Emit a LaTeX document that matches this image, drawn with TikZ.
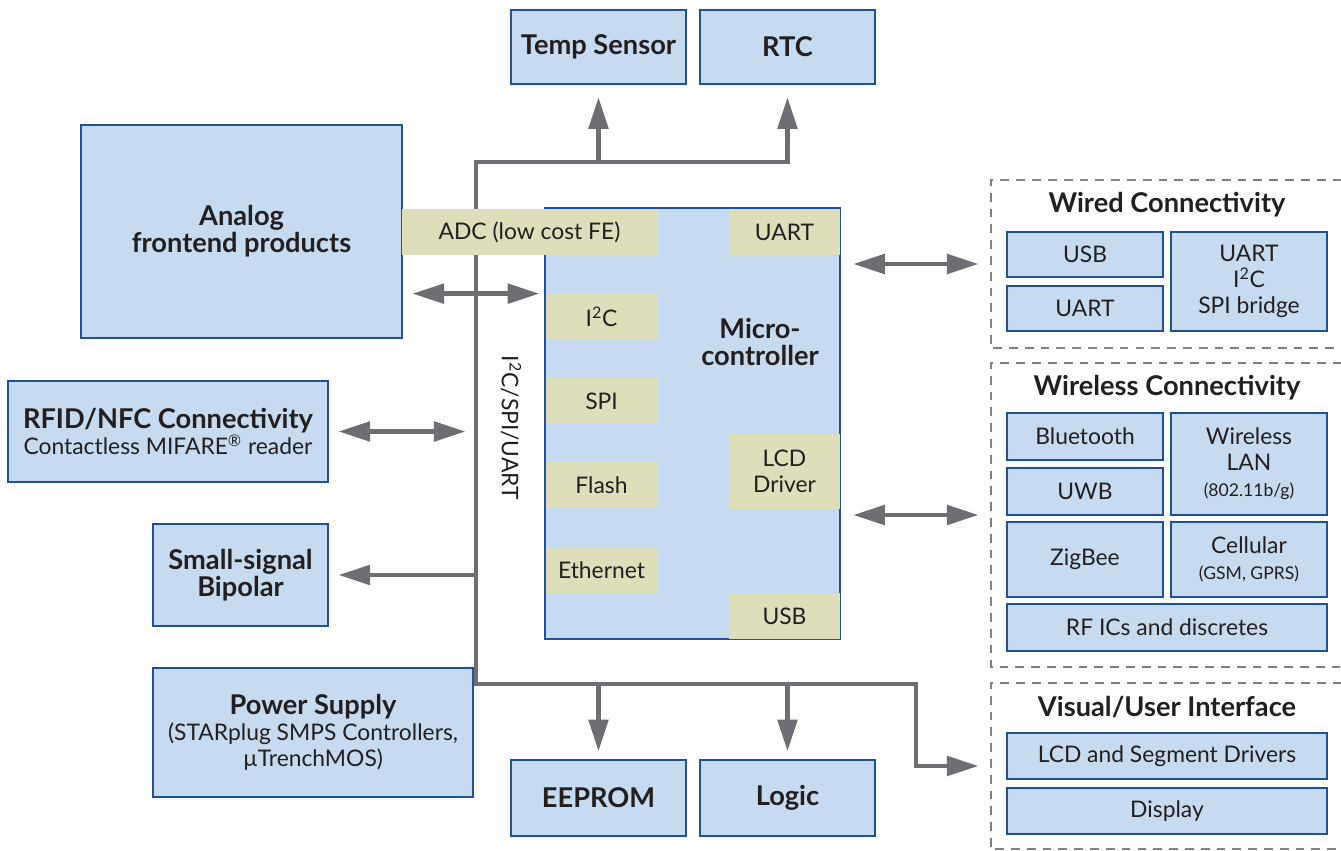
\documentclass[tikz,border=0pt]{standalone}
\usepackage{fontspec}
\setmainfont{Lato}
\usetikzlibrary{arrows.meta,positioning}
\definecolor{boxblue}{HTML}{C6DBEF}
\definecolor{boxline}{HTML}{21509C}
\definecolor{porttan}{HTML}{DEDEBA}
\definecolor{arrowgrey}{HTML}{6D6E71}
\definecolor{dashgrey}{HTML}{808080}
\definecolor{ink}{HTML}{231F20}
\newcommand\headfont{\fontsize{15.5}{15.5}\selectfont\bfseries}
\newcommand\bodyfont{\fontsize{13}{14.8}\selectfont}
\newcommand\smallfont{\fontsize{10}{12}\selectfont}
\begin{document}
\begin{tikzpicture}[
        x=0.02cm, y=-0.02cm,
        box/.style={rectangle, draw=boxline, line width=1.1pt, fill=boxblue, text=ink, align=center, inner sep=0pt, font=\bodyfont},
        port/.style={rectangle, fill=porttan, text=ink, align=center, inner sep=0pt, minimum width=2.22cm, minimum height=0.92cm, font=\bodyfont},
        group/.style={rectangle, inner sep=0pt, minimum width=7cm},
        grpline/.style={draw=dashgrey, line width=1pt, dash pattern=on 5pt off 4pt},
        title/.style={text=ink, align=center, font=\headfont},
        bus/.style={draw=arrowgrey, line width=2.6pt},
        arrow/.style={bus, -{Triangle[length=18pt, width=11pt]}},
        darrow/.style={bus, {Triangle[length=18pt, width=11pt]}-{Triangle[length=18pt, width=11pt]}}
    ]
        \useasboundingbox (0,0) rectangle (1341,851);

        \node[box, font=\headfont, minimum width=3.5cm, minimum height=1.48cm] (temp) at (598.5,47) {Temp Sensor};
        \node[box, font=\headfont, minimum width=3.5cm, minimum height=1.48cm] (rtc) at (787.5,47) {RTC};
        \node[box, font=\headfont, minimum width=6.42cm, minimum height=4.26cm] (analog) at (241.5,231.5) {Analog\\frontend products};
        \node[box, minimum width=6.4cm, minimum height=2.02cm] (rfid) at (168,431.5) {{\headfont RFID/NFC Connectivity}\\Contactless MIFARE\textsuperscript{®} reader};
        \node[box, font=\headfont, minimum width=3.5cm, minimum height=2.04cm] (small) at (240.5,575) {Small-signal\\Bipolar};
        \node[box, minimum width=6.4cm, minimum height=2.58cm] (power) at (313,732.5) {{\headfont Power Supply}\\(STARplug SMPS Controllers,\\µTrenchMOS)};
        \node[box, font=\headfont, minimum width=3.5cm, minimum height=1.52cm] (eeprom) at (598.5,798) {EEPROM};
        \node[box, font=\headfont, minimum width=3.5cm, minimum height=1.52cm] (logic) at (787.5,798) {Logic};
        \node[box, minimum width=5.9cm, minimum height=8.62cm] (mcu) at (692.5,423.5) {};
        \node[title] (mcutext) at (760,342) {Micro-\\controller};

        \node[group, minimum height=3.36cm] (wired) at (1166,264) {};
        \node[group, minimum height=6.08cm] (wless) at (1166,515) {};
        \node[group, minimum height=3.32cm] (visual) at (1166,766) {};
        \draw[grpline] (wired.north east) -- (wired.north west) -- (wired.south west) -- (wired.south east);
        \draw[grpline] (wless.north east) -- (wless.north west) -- (wless.south west) -- (wless.south east);
        \draw[grpline] (visual.north east) -- (visual.north west) -- (visual.south west) -- (visual.south east);
        \node[title] (wiredtitle) at (1167,205) {Wired Connectivity};
        \node[title] (wlesstitle) at (1167,388) {Wireless Connectivity};
        \node[title] (visualtitle) at (1167,707) {Visual/User Interface};

        \node[box, minimum width=3.12cm, minimum height=0.9cm] (wusb) at (1085,254.5) {USB};
        \node[box, minimum width=3.12cm, minimum height=0.9cm] (wuart) at (1085,308.5) {UART};
        \node[box, minimum width=3.12cm, minimum height=1.98cm] (bridge) at (1249,281.5) {UART\\I\textsuperscript{2}C\\SPI bridge};
        \node[box, minimum width=3.12cm, minimum height=0.94cm] (bt) at (1085,436.5) {Bluetooth};
        \node[box, minimum width=3.12cm, minimum height=0.94cm] (uwb) at (1085,491.5) {UWB};
        \node[box, minimum width=3.12cm, minimum height=2.04cm] (wlan) at (1249,464) {Wireless\\LAN\\{\smallfont (802.11b/g)}};
        \node[box, minimum width=3.12cm, minimum height=1.5cm] (zigbee) at (1085,559.5) {ZigBee};
        \node[box, minimum width=3.12cm, minimum height=1.5cm] (cell) at (1249,559.5) {Cellular\\{\smallfont (GSM, GPRS)}};
        \node[box, minimum width=6.4cm, minimum height=0.94cm] (rfic) at (1167,627.5) {RF ICs and discretes};
        \node[box, minimum width=6.4cm, minimum height=0.92cm] (lcdseg) at (1167,756) {LCD and Segment Drivers};
        \node[box, minimum width=6.4cm, minimum height=0.92cm] (display) at (1167,811) {Display};

        \coordinate (bustop) at (476,162);
        \coordinate (busbot) at (476,684);
        \coordinate (bend) at (916,684);
        \draw[arrow, shorten >=7pt] (busbot) -- (bustop) -| (rtc.south);
        \draw[arrow, shorten >=7pt] (temp.south |- bustop) -- (temp.south);
        \draw[arrow, shorten >=7pt] (bustop) -- (busbot) -- (bend) |- (visual.west);
        \draw[arrow, shorten >=4.5pt] (eeprom.north |- busbot) -- (eeprom.north);
        \draw[arrow, shorten >=4.5pt] (logic.north |- busbot) -- (logic.north);

        \node[port, minimum width=5.1cm] (adc) at (529.5,232) {ADC (low cost FE)};
        \node[port] (uart) at (784.5,232) {UART};
        \node[port, minimum height=0.9cm] (i2c) at (601.5,316.5) {I\textsuperscript{2}C};
        \node[port] (spi) at (601.5,401) {SPI};
        \node[port] (flash) at (601.5,485) {Flash};
        \node[port, minimum height=0.9cm] (eth) at (601.5,570.5) {Ethernet};
        \node[port, minimum height=1.5cm] (lcd) at (784.5,471.5) {LCD\\Driver};
        \node[port] (usb) at (784.5,616) {USB};
        \node[rotate=-90, text=ink, font=\bodyfont] (buslabel) at (511,428) {I\textsuperscript{2}C/SPI/UART};

        \draw[darrow, shorten <=5.5pt, shorten >=2.8pt] (analog.east |- i2c.north) -- (mcu.west |- i2c.north);
        \draw[darrow, shorten <=5.5pt, shorten >=6pt] (rfid.east) -- (rfid.east -| bustop);
        \draw[arrow, shorten >=5.5pt] (small.east -| bustop) -- (small.east);
        \draw[darrow, shorten <=7pt, shorten >=7pt] (mcu.east |- wired.west) -- (wired.west);
        \draw[darrow, shorten <=7pt, shorten >=7pt] (mcu.east |- wless.west) -- (wless.west);
    \end{tikzpicture}
\end{document}
